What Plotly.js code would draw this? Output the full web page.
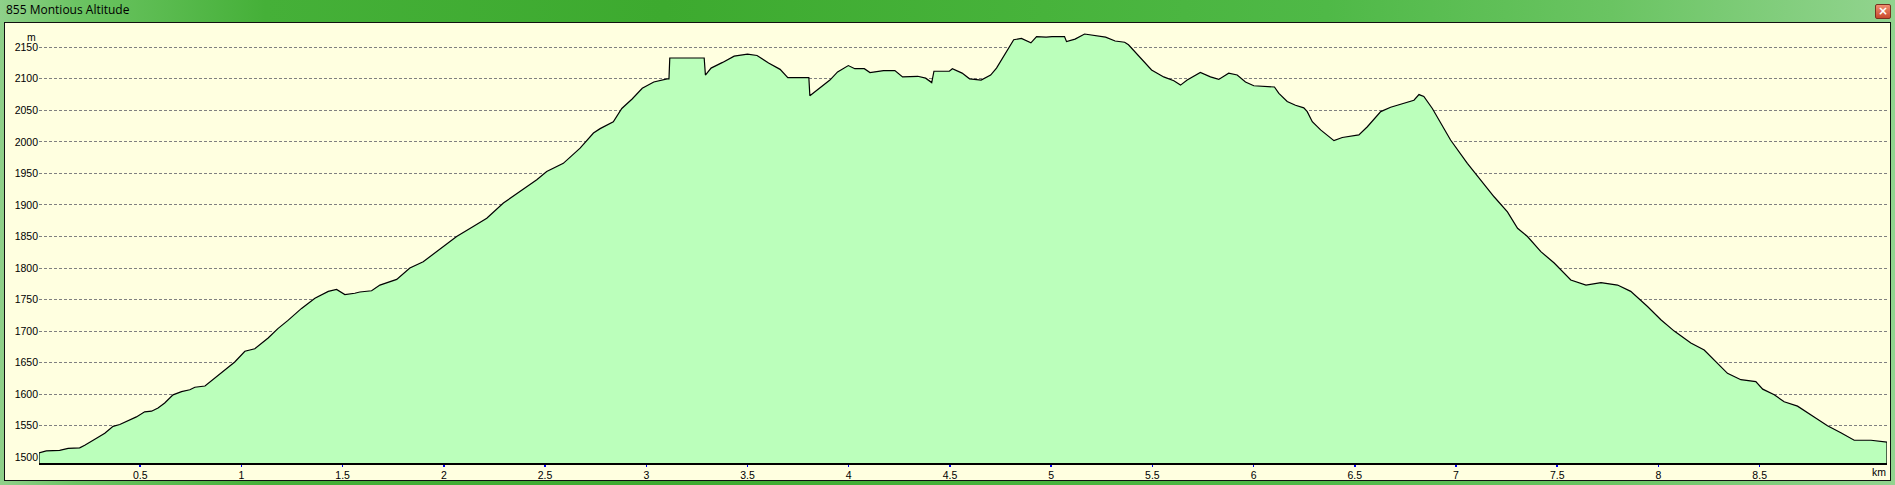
<!DOCTYPE html>
<html>
<head>
<meta charset="utf-8">
<script src="https://cdn.plot.ly/plotly-3.0.1.min.js"></script>
<style>
  html, body { margin:0; padding:0; width:1895px; height:485px; overflow:hidden; }
  body { background: linear-gradient(90deg, #8fd08a 0%, #6cc463 4%, #45b038 14%, #3daa2f 35%, #47b33b 55%, #4fb947 70%, #6ac462 85%, #92d48f 100%); position:relative; }
  #panel { position:absolute; left:4px; top:22px; width:1887px; height:459px; box-sizing:border-box; border:1px solid #101010; background:#FFFFE0; }
  #closebtn { position:absolute; left:1875px; top:4px; width:16px; height:15px; box-sizing:border-box; border:1px solid #7a3020; border-radius:2px; background:linear-gradient(#f09070,#c8482c); color:#fff; font:bold 12px "DejaVu Sans", sans-serif; line-height:13px; text-align:center; }
  #chart { position:absolute; left:0; top:0; width:1895px; height:485px; }
</style>
</head>
<body>
<div id="panel"></div>
<div id="closebtn">×</div>
<div id="chart"></div>
<script>
// Distance along the route (km)
const KM = [
  0.000, 0.036, 0.102, 0.144, 0.201, 0.226, 0.259, 0.284, 0.325, 0.366,
  0.399, 0.448, 0.481, 0.522, 0.556, 0.588, 0.621, 0.662, 0.704, 0.745,
  0.770, 0.820, 0.900, 0.967, 1.017, 1.066, 1.132, 1.180, 1.230, 1.297,
  1.363, 1.429, 1.470, 1.511, 1.560, 1.585, 1.643, 1.684, 1.767, 1.832,
  1.898, 1.964, 2.063, 2.145, 2.212, 2.294, 2.376, 2.459, 2.508, 2.590,
  2.673, 2.739, 2.772, 2.837, 2.879, 2.930, 2.980, 3.037, 3.103, 3.112,
  3.116, 3.286, 3.292, 3.320, 3.377, 3.434, 3.500, 3.547, 3.604, 3.661,
  3.699, 3.803, 3.808, 3.907, 3.945, 3.998, 4.030, 4.077, 4.105, 4.172,
  4.228, 4.266, 4.341, 4.380, 4.410, 4.421, 4.497, 4.512, 4.560, 4.597,
  4.654, 4.701, 4.730, 4.777, 4.815, 4.853, 4.900, 4.928, 4.975, 5.004,
  5.066, 5.076, 5.118, 5.165, 5.212, 5.269, 5.316, 5.363, 5.382, 5.458,
  5.496, 5.556, 5.606, 5.639, 5.672, 5.737, 5.787, 5.828, 5.877, 5.919,
  5.960, 6.001, 6.103, 6.125, 6.166, 6.207, 6.248, 6.265, 6.290, 6.331,
  6.372, 6.397, 6.438, 6.479, 6.520, 6.562, 6.628, 6.677, 6.743, 6.792,
  6.817, 6.841, 6.883, 6.924, 6.973, 7.056, 7.122, 7.188, 7.254, 7.304,
  7.353, 7.419, 7.485, 7.567, 7.642, 7.716, 7.798, 7.863, 7.946, 8.012,
  8.078, 8.160, 8.226, 8.292, 8.341, 8.407, 8.481, 8.515, 8.572, 8.621,
  8.687, 8.769, 8.835, 8.901, 8.967, 9.050, 9.129
];
// Altitude (m)
const ALT = [
  1507, 1510, 1511, 1514, 1515, 1519, 1526, 1530, 1538, 1549,
  1552, 1559, 1564, 1572, 1573, 1578, 1586, 1599, 1604, 1607,
  1611, 1613, 1633, 1651, 1668, 1672, 1689, 1704, 1717, 1736,
  1752, 1763, 1766, 1758, 1760, 1762, 1764, 1773, 1782, 1800,
  1810, 1826, 1850, 1866, 1879, 1903, 1921, 1940, 1953, 1966,
  1990, 2014, 2021, 2032, 2053, 2068, 2085, 2095, 2100, 2100,
  2133, 2133, 2106, 2117, 2126, 2136, 2139, 2137, 2125, 2115,
  2102, 2102, 2073, 2098, 2111, 2121, 2116, 2116, 2110, 2113,
  2113, 2103, 2104, 2101, 2094, 2112, 2112, 2116, 2109, 2100,
  2098, 2106, 2117, 2143, 2162, 2164, 2157, 2167, 2166, 2167,
  2167, 2159, 2163, 2171, 2169, 2166, 2160, 2158, 2154, 2127,
  2114, 2103, 2097, 2090, 2098, 2110, 2103, 2099, 2109, 2106,
  2095, 2089, 2087, 2077, 2064, 2058, 2054, 2048, 2032, 2019,
  2008, 2002, 2007, 2009, 2011, 2024, 2048, 2055, 2061, 2066,
  2075, 2072, 2053, 2030, 2003, 1966, 1940, 1913, 1889, 1863,
  1850, 1826, 1808, 1781, 1773, 1777, 1773, 1763, 1739, 1718,
  1700, 1681, 1670, 1649, 1633, 1623, 1620, 1608, 1599, 1588,
  1581, 1564, 1550, 1539, 1527, 1527, 1524
];
const Y_TICKS = [1500,1550,1600,1650,1700,1750,1800,1850,1900,1950,2000,2050,2100,2150];
const X_TICKS = [0.5,1,1.5,2,2.5,3,3.5,4,4.5,5,5.5,6,6.5,7,7.5,8,8.5];
const X_TICK_TEXT = ['0.5','1','1.5','2','2.5','3','3.5','4','4.5','5','5.5','6','6.5','7','7.5','8','8.5'];
const Y_RANGE = [1490.9, 2186.9];
const TITLE = '855 Montious Altitude';
const Y_UNIT = 'm';
const X_UNIT = 'km';

const last = KM.length - 1;
const xs = [KM[0]].concat(KM, [KM[last]]);
const ys = [Y_RANGE[0]].concat(ALT, [Y_RANGE[0]]);

const tickFont = {family: 'Liberation Sans, Arial, sans-serif', size: 10.5, color: '#000000'};

const trace = {
  x: xs, y: ys, type: 'scatter', mode: 'lines',
  fill: 'toself', fillcolor: '#BBFFBB',
  line: {color: '#000000', width: 1.2},
  hoverinfo: 'skip'
};

const layout = {
  width: 1895, height: 485, autosize: false,
  margin: {l: 39, r: 8, t: 24, b: 22, pad: 0},
  paper_bgcolor: 'rgba(0,0,0,0)',
  plot_bgcolor: '#FFFFE0',
  showlegend: false,
  title: {
    text: TITLE, xref: 'container', yref: 'container',
    x: 6/1895, xanchor: 'left', y: 1 - 10/485, yanchor: 'middle',
    font: {family: 'Open Sans, sans-serif', size: 12, color: '#000000'}
  },
  xaxis: {
    range: [KM[0], KM[last]], showgrid: false, zeroline: false,
    showline: true, linecolor: '#000000', linewidth: 1.5,
    tickmode: 'array', tickvals: X_TICKS, ticktext: X_TICK_TEXT,
    ticks: 'outside', ticklen: 2, tickwidth: 1.5, tickcolor: '#0000EE',
    tickfont: tickFont, fixedrange: true
  },
  yaxis: {
    range: Y_RANGE, showgrid: true, gridcolor: '#808080', gridwidth: 1,
    griddash: '3px,2px', zeroline: false, showline: false,
    tickmode: 'array', tickvals: Y_TICKS, ticks: '',
    tickfont: tickFont, layer: 'above traces', fixedrange: true
  },
  annotations: [
    {text: Y_UNIT, xref: 'paper', yref: 'paper', x: -0.004, y: 0.970,
     xanchor: 'center', yanchor: 'middle', showarrow: false, font: tickFont},
    {text: X_UNIT, xref: 'paper', yref: 'paper', x: 1.0005, y: -0.021,
     xanchor: 'right', yanchor: 'middle', showarrow: false, font: tickFont}
  ]
};

Plotly.newPlot('chart', [trace], layout, {staticPlot: true, displayModeBar: false});
</script>
</body>
</html>
